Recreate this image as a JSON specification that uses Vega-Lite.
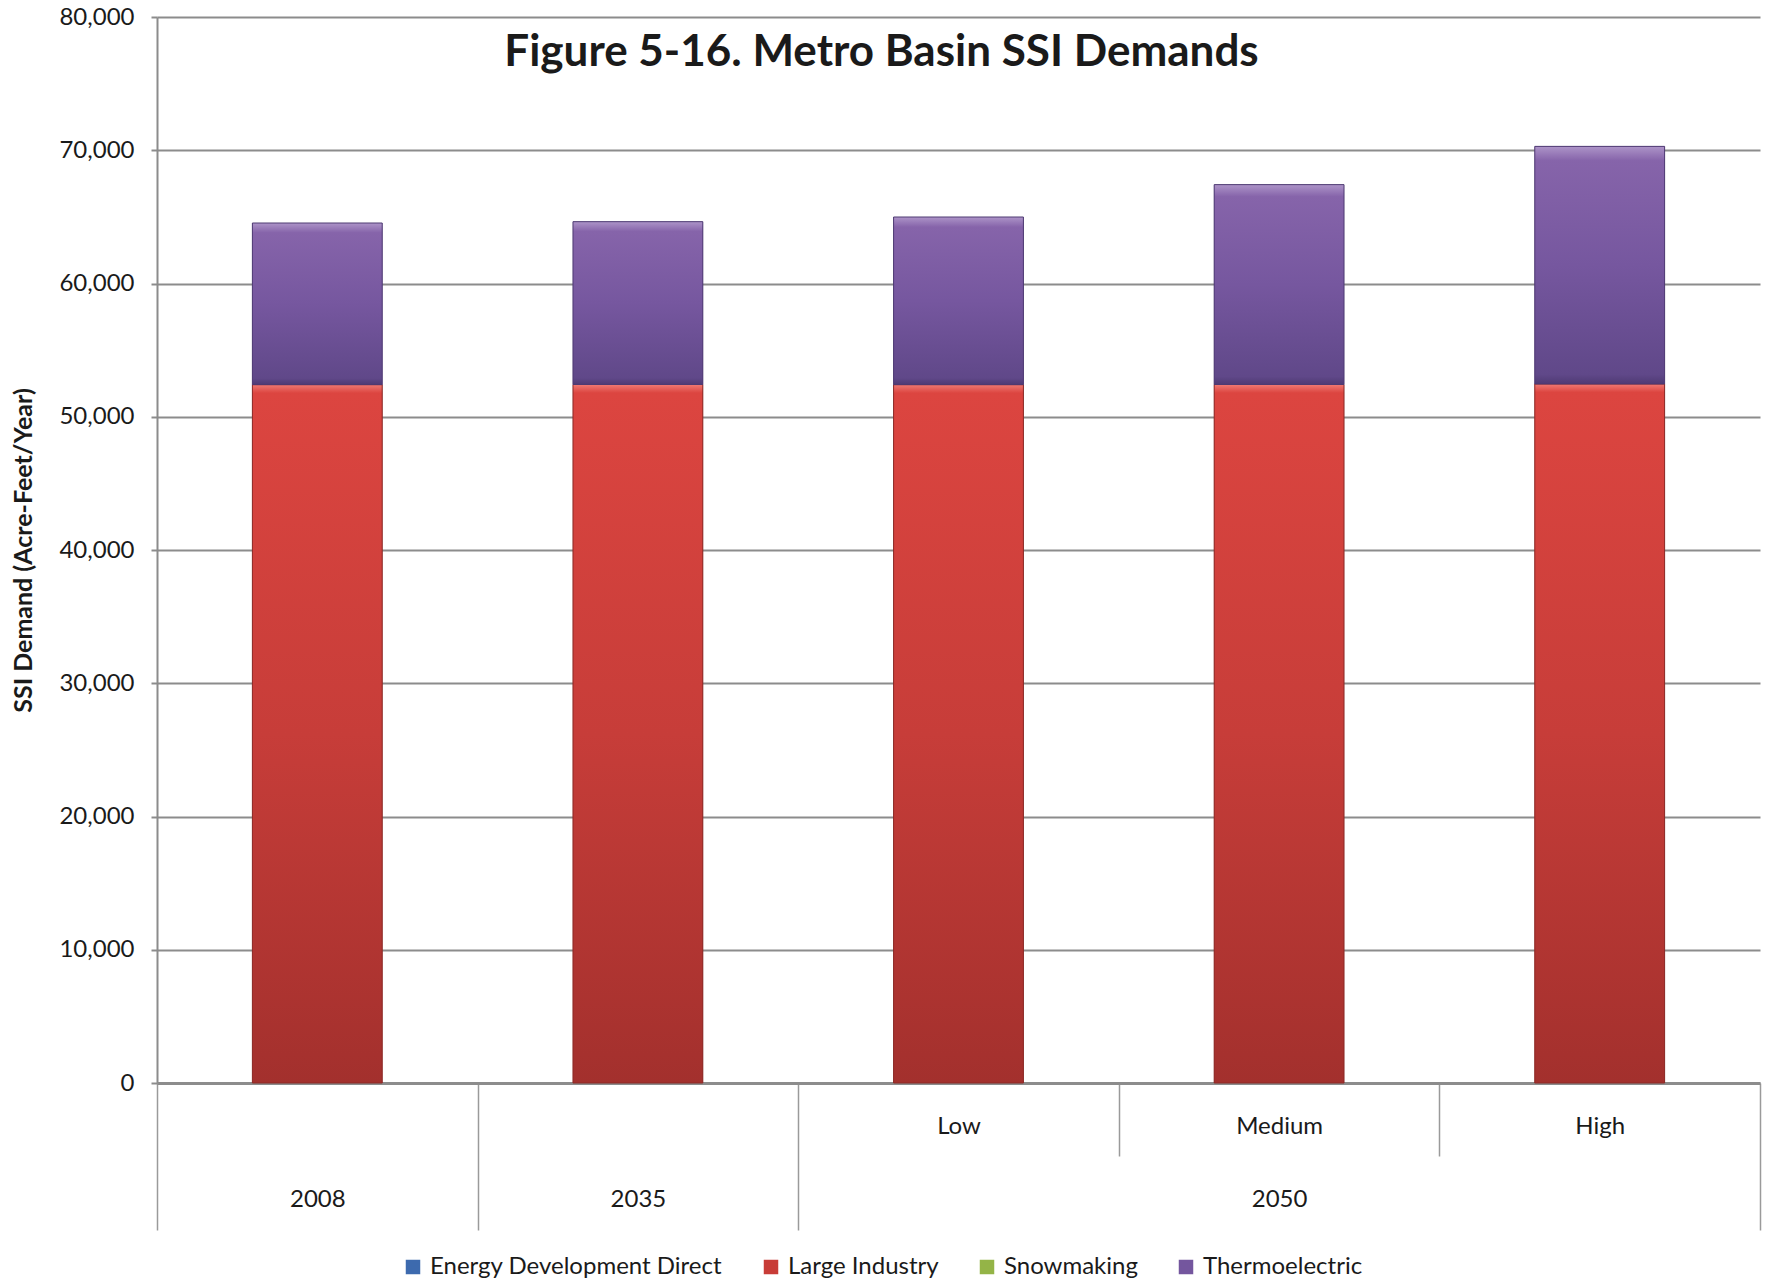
{
  "$schema": "https://vega.github.io/schema/vega-lite/v6.json",
  "width": 1603,
  "height": 1066,
  "autosize": "none",
  "padding": {"left": 157, "top": 17, "right": 12, "bottom": 203},
  "background": "white",
  "title": {
    "text": "Figure 5-16. Metro Basin SSI Demands",
    "font": "Lato",
    "fontSize": 44,
    "fontWeight": "bold",
    "color": "#1a1a1a",
    "anchor": "middle",
    "frame": "group",
    "dx": -77,
    "offset": -70
  },
  "data": {
    "values": [
      {"cat": "2008", "series": "Energy Development Direct", "value": 0},
      {"cat": "2008", "series": "Large Industry", "value": 52410},
      {"cat": "2008", "series": "Snowmaking", "value": 0},
      {"cat": "2008", "series": "Thermoelectric", "value": 12130},
      {"cat": "2035", "series": "Energy Development Direct", "value": 0},
      {"cat": "2035", "series": "Large Industry", "value": 52420},
      {"cat": "2035", "series": "Snowmaking", "value": 0},
      {"cat": "2035", "series": "Thermoelectric", "value": 12220},
      {"cat": "2050 Low", "series": "Energy Development Direct", "value": 0},
      {"cat": "2050 Low", "series": "Large Industry", "value": 52410},
      {"cat": "2050 Low", "series": "Snowmaking", "value": 0},
      {"cat": "2050 Low", "series": "Thermoelectric", "value": 12580},
      {"cat": "2050 Medium", "series": "Energy Development Direct", "value": 0},
      {"cat": "2050 Medium", "series": "Large Industry", "value": 52420},
      {"cat": "2050 Medium", "series": "Snowmaking", "value": 0},
      {"cat": "2050 Medium", "series": "Thermoelectric", "value": 15000},
      {"cat": "2050 High", "series": "Energy Development Direct", "value": 0},
      {"cat": "2050 High", "series": "Large Industry", "value": 52460},
      {"cat": "2050 High", "series": "Snowmaking", "value": 0},
      {"cat": "2050 High", "series": "Thermoelectric", "value": 17830}
    ]
  },
  "transform": [
    {"stack": "value", "groupby": ["cat"], "sort": [{"field": "series", "order": "ascending"}], "as": ["y0", "y1"]}
  ],
  "encoding": {
    "x": {
      "field": "cat",
      "type": "nominal",
      "sort": ["2008", "2035", "2050 Low", "2050 Medium", "2050 High"],
      "scale": {"paddingInner": 0, "paddingOuter": 0},
      "axis": {
        "title": null,
        "tickBand": "extent",
        "labelAngle": 0,
        "labelFont": "Lato",
        "labelFontSize": 24,
        "labelColor": "#1a1a1a",
        "labelBaseline": "top",
        "labelLineHeight": 73,
        "labelExpr": "datum.value == '2008' ? ['', '2008'] : datum.value == '2035' ? ['', '2035'] : datum.value == '2050 Low' ? ['Low'] : datum.value == '2050 Medium' ? ['Medium', '2050'] : datum.value == '2050 High' ? ['High'] : ''",
        "domainColor": "#8c8c8c",
        "domainWidth": 3,
        "tickColor": "#9a9a9a",
        "tickWidth": 1.5,
        "tickSize": {"condition": {"test": "datum.value == '2050 Low' || datum.value == '2050 Medium'", "value": 73}, "value": 147},
        "labelPadding": {"condition": {"test": "datum.value == '2050 Low' || datum.value == '2050 Medium'", "value": -42}, "value": -116},
        "grid": false
      }
    },
    "y": {
      "field": "y1",
      "type": "quantitative",
      "scale": {"domain": [0, 80000], "nice": false},
      "axis": {
        "title": "SSI Demand (Acre-Feet/Year)",
        "titleFont": "Lato",
        "titleFontSize": 25,
        "titleFontWeight": "bold",
        "titleColor": "#1a1a1a",
        "titlePadding": 22,
        "values": [0, 10000, 20000, 30000, 40000, 50000, 60000, 70000, 80000],
        "format": ",d",
        "labelFont": "Lato",
        "labelFontSize": 24,
        "labelColor": "#1a1a1a",
        "labelPadding": 17,
        "grid": true,
        "gridColor": "#8c8c8c",
        "gridWidth": 2,
        "domainColor": "#8c8c8c",
        "domainWidth": 2,
        "tickColor": "#8c8c8c",
        "tickSize": 6,
        "tickWidth": 2
      }
    },
    "y2": {"field": "y0"}
  },
  "layer": [
    {
      "mark": {"type": "bar", "width": {"band": 0.405}},
      "encoding": {
        "color": {
          "field": "series",
          "type": "nominal",
          "scale": {
            "domain": ["Energy Development Direct", "Large Industry", "Snowmaking", "Thermoelectric"],
            "range": ["#3d6aae", "#c83c37", "#94b447", "#74569e"]
          },
          "legend": {
            "title": null,
            "orient": "none",
            "legendX": 244,
            "legendY": 1238,
            "direction": "horizontal",
            "symbolType": "square",
            "symbolSize": 210,
            "symbolStrokeWidth": 0,
            "labelFont": "Lato",
            "labelFontSize": 24,
            "labelColor": "#1a1a1a",
            "labelOffset": 5,
            "labelLimit": 0,
            "columnPadding": 36
          }
        }
      }
    },
    {
      "transform": [{"filter": "datum.series == 'Large Industry'"}],
      "mark": {
        "type": "bar",
        "width": {"band": 0.405},
        "stroke": "#8a2a27",
        "strokeWidth": 1,
        "color": {
          "gradient": "linear", "x1": 0, "y1": 0, "x2": 0, "y2": 1,
          "stops": [
            {"offset": 0, "color": "#f07a74"},
            {"offset": 0.012, "color": "#dc4540"},
            {"offset": 0.5, "color": "#c73d39"},
            {"offset": 1, "color": "#a3302d"}
          ]
        }
      }
    },
    {
      "transform": [{"filter": "datum.series == 'Thermoelectric'"}],
      "mark": {
        "type": "bar",
        "width": {"band": 0.405},
        "stroke": "#4e3a72",
        "strokeWidth": 1,
        "color": {
          "gradient": "linear", "x1": 0, "y1": 0, "x2": 0, "y2": 1,
          "stops": [
            {"offset": 0, "color": "#ad94c8"},
            {"offset": 0.06, "color": "#8664aa"},
            {"offset": 0.5, "color": "#76579f"},
            {"offset": 0.96, "color": "#604889"},
            {"offset": 1, "color": "#4f3a74"}
          ]
        }
      }
    }
  ],
  "config": {"view": {"stroke": null}}
}
